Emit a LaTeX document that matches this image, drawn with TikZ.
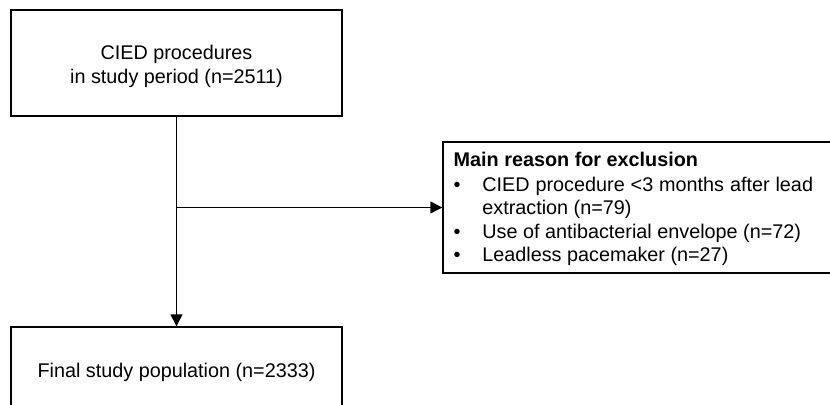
\documentclass[tikz,border=0pt]{standalone}
\usepackage{fontspec}
\setmainfont{Liberation Sans}
\usetikzlibrary{arrows.meta}

\tikzset{every picture/.style={line width=1.1pt}}
\tikzset{
  txt/.style={font=\fontsize{14.85}{17.6}\selectfont},
  box/.style={draw, txt, align=center, inner sep=0pt},
  arr/.style={-{Triangle[length=9pt,width=9pt]}}
}

\begin{document}
\begin{tikzpicture}[x=0.75pt,y=0.75pt,yscale=-1,xscale=1]
\useasboundingbox (0,0) rectangle (830,404);
\clip (0,0) rectangle (830,404);

% Boxes
\node [box, minimum width=248.25pt, minimum height=79.5pt] (cied) at (176.5,63) {};
\node [box, minimum width=248.25pt, minimum height=67.5pt] (final) at (176.5,372) {Final study population (n=2333)};
\node [box, minimum width=305.25pt, minimum height=98.25pt] (excl) at (646.5,207.5) {};

% Text Node
\node [txt, align=center, inner sep=0pt] (ciedtext) at (176.5,66.4) {CIED procedures\\in study period (n=2511)};
% Text Node
\node [txt, anchor=north west, inner sep=0pt] (reasons) at (453,149.3) {\begin{tabular}{@{}p{21.5pt}@{}l@{}}
\multicolumn{2}{@{}l@{}}{\bfseries Main reason for exclusion}\\[1pt]
\textbullet & \makebox[248pt][s]{CIED procedure \textless3 months after lead}\\
 & extraction (n=79)\\
\textbullet & Use of antibacterial envelope (n=72)\\
\textbullet & Leadless pacemaker (n=27)
\end{tabular}};

% Arrows
\draw [arr] (cied) -- (final);
\coordinate (branch) at (cied.south |- excl.west);
\draw [arr] (branch) -- (excl);

\end{tikzpicture}
\end{document}
